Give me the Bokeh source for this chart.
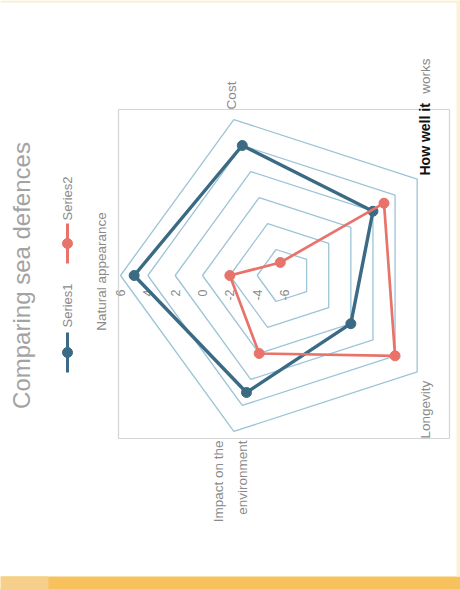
import math
from bokeh.plotting import figure
from bokeh.models import Range1d
from bokeh.core.properties import value
from bokeh.embed import file_html
from bokeh.resources import INLINE

# ---- data ----
categories = ["Natural appearance", "Cost", "How well it works", "Longevity",
              "Impact on the environment"]
series1 = [5, 4, 2, 0, 3]
series2 = [-2, -5, 3, 4, 0]
series_names = ["Series1", "Series2"]
ring_levels = [-4, -2, 0, 2, 4, 6]
tick_labels = ["6", "4", "2", "0", "-2", "-4", "-6"]
tick_values = [6, 4, 2, 0, -2, -4, -6]
r_min, r_max = -6, 6

# ---- layout / style ----
W, H = 460, 589
CX, CY_IMG, R = 284, 275, 164
FONT = value("Liberation Sans")
C1, C2 = "#3b6a84", "#e8736a"
GRID = "#9cc4d6"
LABEL = "#8a8a8a"


def Y(y_img):
    return H - y_img


CY = Y(CY_IMG)


def pt(i, v):
    r = R * (v - r_min) / (r_max - r_min)
    phi = math.radians(180 - 72 * i)
    return CX + r * math.cos(phi), CY + r * math.sin(phi)


p = figure(width=W, height=H, x_range=Range1d(0, W), y_range=Range1d(0, H),
           output_backend="svg", toolbar_location=None, min_border=0)
p.axis.visible = False
p.grid.visible = False
p.outline_line_color = None
p.background_fill_color = "white"
p.border_fill_color = "white"

# page border decoration
p.quad(left=0, right=W, bottom=0, top=Y(576), color="#f7c15c", line_color=None)
p.quad(left=0, right=48, bottom=0, top=Y(576), color="#f6cf8a", line_color=None)
p.quad(left=0, right=W, bottom=Y(2), top=H, color="#fbeec4", line_color=None)
p.quad(left=W - 4, right=W, bottom=Y(576), top=H, color="#fcf3d6", line_color=None)

# plot-area box
p.quad(left=118, right=449, bottom=Y(438), top=Y(109), fill_color=None,
       line_color="#d2d4d6", line_width=1.2)

# rings
for lv in ring_levels:
    xs, ys = zip(*[pt(i, lv) for i in range(5)] + [pt(0, lv)])
    p.line(list(xs), list(ys), line_color=GRID, line_width=1.3)

# tick labels along first axis
for lab, tv in zip(tick_labels, tick_values):
    x, _ = pt(0, tv)
    p.text(x=[x], y=[Y(289)], text=[lab], angle=math.pi / 2, text_align="right",
           text_baseline="middle", text_font=FONT, text_font_size="12.5px",
           text_color=LABEL)

# series
for vals, col, lw in [(series1, C1, 3.4), (series2, C2, 2.7)]:
    pts = [pt(i, v) for i, v in enumerate(vals)]
    xs, ys = zip(*(pts + [pts[0]]))
    p.line(list(xs), list(ys), line_color=col, line_width=lw, line_join="round")
    p.scatter([q[0] for q in pts], [q[1] for q in pts], size=10, color=col)

# category labels
lab_kw = dict(angle=math.pi / 2, text_font=FONT, text_font_size="13.5px",
              text_color=LABEL)
p.text(x=[101], y=[Y(271)], text=[categories[0]], text_align="center",
       text_baseline="middle", **lab_kw)
p.text(x=[231], y=[Y(95)], text=[categories[1]], text_align="center",
       text_baseline="middle", **lab_kw)
p.text(x=[424], y=[Y(175)], text=["How well it"], text_align="left",
       text_baseline="middle", angle=math.pi / 2, text_font=FONT,
       text_font_size="14px", text_font_style="bold", text_color="#111111")
p.text(x=[425], y=[Y(58)], text=["works"], text_align="right",
       text_baseline="middle", **lab_kw)
p.text(x=[425], y=[Y(438)], text=[categories[3]], text_align="left",
       text_baseline="middle", **lab_kw)
p.text(x=[218, 242], y=[Y(440), Y(440)], text=["Impact on the", "environment"],
       text_align="right", text_baseline="middle", **lab_kw)

# title
p.text(x=[21], y=[Y(275)], text=["Comparing sea defences"], angle=math.pi / 2,
       text_align="center", text_baseline="middle", text_font=FONT,
       text_font_size="24px", text_color="#a3a3a3")

# legend
for name, col, ly, ty in [(series_names[0], C1, 352, 327), (series_names[1], C2, 243, 220)]:
    p.line([67, 67], [Y(ly + 20), Y(ly - 20)], line_color=col, line_width=3)
    p.scatter([67], [Y(ly)], size=10, color=col)
    p.text(x=[67], y=[Y(ty)], text=[name], angle=math.pi / 2, text_align="left",
           text_baseline="middle", text_font=FONT, text_font_size="13px",
           text_color=LABEL)

open("out.html", "w").write(file_html(p, INLINE))
